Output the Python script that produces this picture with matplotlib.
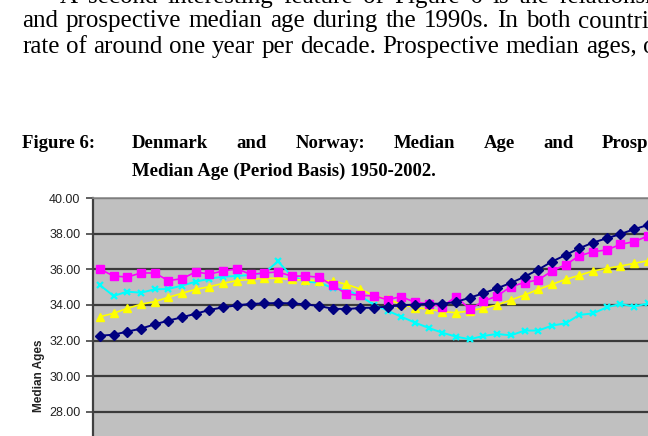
import matplotlib
matplotlib.use("Agg")
import matplotlib.pyplot as plt

# ---- data (1950 onwards; only the visible part of the chart) ----
years = list(range(1950, 1991))
denmark_median = [32.27, 32.33, 32.50, 32.67, 32.91, 33.12, 33.31, 33.51, 33.72, 33.87,
                  33.98, 34.06, 34.09, 34.11, 34.09, 34.04, 33.94, 33.79, 33.77, 33.83,
                  33.85, 33.91, 33.98, 34.02, 34.07, 34.07, 34.17, 34.41, 34.66, 34.94,
                  35.24, 35.59, 35.99, 36.44, 36.81, 37.19, 37.51, 37.75, 37.99, 38.26,
                  38.50]
denmark_prospective = [36.02, 35.63, 35.57, 35.80, 35.80, 35.37, 35.48, 35.86, 35.74, 35.91,
                       36.04, 35.72, 35.80, 35.86, 35.62, 35.63, 35.56, 35.10, 34.62, 34.54,
                       34.51, 34.30, 34.47, 34.15, 34.07, 33.91, 34.47, 33.77, 34.21, 34.51,
                       35.03, 35.26, 35.41, 35.91, 36.27, 36.76, 37.00, 37.09, 37.41, 37.56,
                       37.88]
norway_median = [33.34, 33.53, 33.81, 34.04, 34.19, 34.43, 34.66, 34.88, 35.03, 35.22,
                 35.37, 35.44, 35.50, 35.50, 35.44, 35.40, 35.36, 35.35, 35.16, 34.90,
                 34.52, 34.32, 34.04, 33.85, 33.77, 33.62, 33.57, 33.66, 33.83, 34.00,
                 34.28, 34.56, 34.88, 35.16, 35.44, 35.67, 35.91, 36.06, 36.19, 36.34,
                 36.49]
norway_prospective = [35.12, 34.51, 34.75, 34.69, 34.88, 34.90, 35.09, 35.31, 35.48, 35.59,
                      35.63, 35.69, 35.80, 36.45, 35.63, 35.31, 35.26, 34.95, 34.85, 34.50,
                      34.02, 33.68, 33.34, 33.01, 32.71, 32.44, 32.22, 32.07, 32.26, 32.37,
                      32.29, 32.56, 32.56, 32.84, 32.97, 33.44, 33.53, 33.87, 34.06, 33.91,
                      34.09]
y_range = [20.0, 40.0]
y_ticks = [28.0, 30.0, 32.0, 34.0, 36.0, 38.0, 40.0]

body_lines = [
    "A second interesting feature of Figure 6 is the relationship",
    "and prospective median age during the 1990s. In both countries,",
    "rate of around one year per decade. Prospective median ages, on",
]
fig_label = "Figure 6:"
title_lines = ["Denmark and Norway: Median Age and Prospective",
               "Median Age (Period Basis) 1950-2002."]
y_label = "Median Ages"

W, H = 648, 436
fig = plt.figure(figsize=(W / 100, H / 100), dpi=100)
fig.patch.set_facecolor("white")
renderer = fig.canvas.get_renderer()

serif = ["Liberation Serif", "DejaVu Serif"]
sans = ["Liberation Sans", "DejaVu Sans"]


def fy(px):
    return 1 - px / H


def fx(px):
    return px / W


def justified(line, x0, x1, baseline, fontsize, **kw):
    """Place the words of a justified line so that it spans x0..x1 pixels
    (never tighter than a normal word space)."""
    words = line.split(" ")
    texts = [fig.text(0, fy(baseline), w, va="baseline", ha="left", fontsize=fontsize, **kw)
             for w in words]
    widths = [t.get_window_extent(renderer).width for t in texts]
    min_gap = 0.25 * fontsize * 100 / 72
    gap = max((x1 - x0 - sum(widths)) / max(len(words) - 1, 1), min_gap)
    x = x0
    for t, w in zip(texts, widths):
        t.set_x(fx(x))
        x += w + gap


# body text (justified paragraph, partly cut at the top and right)
body_size = 18
justified(body_lines[0], 60, 678, 3, body_size, family=serif)
justified(body_lines[1], 22, 676, 27, body_size, family=serif)
justified(body_lines[2], 22, 668, 53, body_size, family=serif)

# figure caption (first line justified, second line flush left)
cap_size = 13.5
fig.text(fx(22), fy(148), fig_label, family=serif, fontsize=cap_size, weight="bold", va="baseline")
justified(title_lines[0], 132, 694, 148, cap_size, family=serif, weight="bold")
fig.text(fx(132), fy(176), title_lines[1], family=serif, fontsize=cap_size, weight="bold",
         va="baseline")

# chart axes (extends past the bottom and right edges of the image)
left_px, top_px = 93, 198.3
px_per_unit = 17.78
n_cat = 2002 - 1950 + 1
cat_w = 13.7
ax_w = n_cat * cat_w
ax_h = (y_range[1] - y_range[0]) * px_per_unit
ax = fig.add_axes([fx(left_px), fy(top_px) - ax_h / H, ax_w / W, ax_h / H])
ax.set_facecolor("#C0C0C0")

ax.plot(years, denmark_median, color="#000080", marker="D", markersize=5, lw=1.4, zorder=5)
ax.plot(years, denmark_prospective, color="#FF00FF", marker="s", markersize=6, lw=1.2, zorder=4)
ax.plot(years, norway_median, color="#FFFF00", marker="^", markersize=6, lw=1.2, zorder=3)
ax.plot(years, norway_prospective, color="#00FFFF", marker="x", markersize=5, mew=1.6, lw=1.4,
        zorder=2)

ax.set_xlim(1949.5, 2002.5)
ax.set_ylim(y_range[0], y_range[1])
ax.set_yticks(y_ticks)
ax.set_yticklabels([f"{v:.2f}" for v in y_ticks], family=sans, fontsize=9, color="#222222")
ax.set_xticks([])
ax.yaxis.grid(True, color="#3a3a3a", lw=1.6)
ax.set_axisbelow(True)
ax.tick_params(axis="y", direction="out", length=5, width=1.2, color="#444444", pad=4)

for s in ["right", "bottom"]:
    ax.spines[s].set_visible(False)
ax.spines["top"].set_color("#8c8c8c")
ax.spines["top"].set_linewidth(1.2)
ax.spines["left"].set_color("#404040")
ax.spines["left"].set_linewidth(1.6)

ax.set_ylabel(y_label, family=sans, fontsize=8.5, weight="bold", color="#222222")
ax.yaxis.set_label_coords((45 - left_px) / ax_w, 0.5)

fig.savefig("out.png", dpi=100, facecolor="white")
